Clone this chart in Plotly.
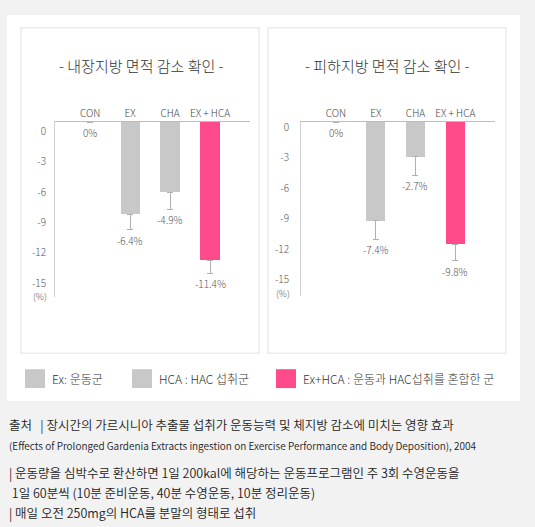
import plotly.graph_objects as go

W, H = 535, 527

# categories and values (bar length, labels as printed)
groups = ["CON", "EX", "CHA", "EX + HCA"]

visceral_bar = [0, -9.1, -6.9, -13.6]
visceral_err = [0, 1.5, 1.7, 1.3]
visceral_text = ["0%", "-6.4%", "-4.9%", "-11.4%"]

subcut_bar = [0, -9.7, -3.4, -12.0]
subcut_err = [0, 1.8, 1.8, 1.6]
subcut_text = ["0%", "-7.4%", "-2.7%", "-9.8%"]

y_ticks = [0, -3, -6, -9, -12, -15]

titles = ["- 내장지방 면적 감소 확인 -", "- 피하지방 면적 감소 확인 -"]

legend_items = ["Ex: 운동군", "HCA : HAC 섭취군", "Ex+HCA : 운동과 HAC섭취를 혼합한 군"]

source_lines = [
    "출처\u00a0\u00a0 | 장시간의 가르시니아 추출물 섭취가 운동능력 및 체지방 감소에 미치는 영향 효과",
    "(Effects of Prolonged Gardenia Extracts ingestion on Exercise Performance and Body Deposition), 2004",
    "| 운동량을 심박수로 환산하면 1일 200kal에 해당하는 운동프로그램인 주 3회 수영운동을",
    "\u00a01일 60분씩 (10분 준비운동, 40분 수영운동, 10분 정리운동)",
    "| 매일 오전 250mg의 HCA를 분말의 형태로 섭취",
]

GRAY = "#c8c8c8"
PINK = "#ff4b8b"
bar_colors = [GRAY, GRAY, GRAY, PINK]
legend_colors = [GRAY, GRAY, PINK]
KR = "Noto Sans CJK KR"


def px(x):
    return x / W


def py(y):
    return 1 - y / H


fig = go.Figure()
annotations = []

panels = [
    (visceral_bar, visceral_err, visceral_text, "x", "y"),
    (subcut_bar, subcut_err, subcut_text, "x2", "y2"),
]
for bars, errs, texts, xa, ya in panels:
    fig.add_trace(go.Bar(
        x=groups, y=bars, width=0.48,
        marker=dict(color=bar_colors, line=dict(width=0)),
        error_y=dict(type="data", symmetric=False, array=[0] * 4, arrayminus=errs,
                     color="#b0b0b0", thickness=1, width=3),
        xaxis=xa, yaxis=ya, showlegend=False,
    ))
    # value labels just under the end of each error bar
    for g, b, e, t in zip(groups, bars, errs, texts):
        annotations.append(dict(text=t, x=g, y=b - e, xref=xa, yref=ya, showarrow=False,
                                xanchor="center", yanchor="top", yshift=-1,
                                font=dict(family=KR, size=10, color="#555", weight=300)))

xcommon = dict(type="category", side="top", showline=True, linecolor="#bdbdbd", linewidth=1,
               ticks="", showgrid=False, zeroline=False, range=[-0.88, 4.0],
               tickfont=dict(family=KR, size=10, color="#444", weight=300), fixedrange=True)
ycommon = dict(showline=True, linecolor="#cfcfcf", linewidth=1, ticks="", showgrid=False,
               zeroline=False, tickvals=y_ticks, ticktext=[str(v) for v in y_ticks],
               tickfont=dict(family=KR, size=10, color="#555", weight=300), fixedrange=True)

fig.update_layout(
    width=W, height=H,
    margin=dict(l=0, r=0, t=0, b=0),
    paper_bgcolor="#f2f2f2", plot_bgcolor="rgba(0,0,0,0)",
    bargap=0, showlegend=False,
    xaxis=dict(xcommon, domain=[px(55), px(250)], anchor="y"),
    yaxis=dict(ycommon, domain=[py(295), py(119)], range=[-17.2, 0], anchor="x",
               ticklabelshift=9, ticklabelstandoff=6),
    xaxis2=dict(xcommon, domain=[px(301), px(495)], anchor="y2"),
    yaxis2=dict(ycommon, domain=[py(294), py(119)], range=[-17.05, 0], anchor="x2",
                ticklabelshift=5, ticklabelstandoff=9),
)

# card and panel frames
shapes = [
    dict(type="rect", xref="paper", yref="paper", x0=px(7), x1=px(520), y0=py(400), y1=py(11),
         fillcolor="white", line=dict(width=0), layer="below"),
    dict(type="rect", xref="paper", yref="paper", x0=px(21), x1=px(259), y0=py(352), y1=py(24),
         fillcolor="white", line=dict(color="#ebebeb", width=1.5), layer="below"),
    dict(type="rect", xref="paper", yref="paper", x0=px(268), x1=px(506), y0=py(352), y1=py(24),
         fillcolor="white", line=dict(color="#ebebeb", width=1.5), layer="below"),
]

# titles
for t, cx in zip(titles, [141, 387.5]):
    annotations.append(dict(text=t, x=px(cx), y=py(62), xref="paper", yref="paper",
                            showarrow=False, xanchor="center", yanchor="middle",
                            font=dict(family=KR, size=15, color="#333", weight=300)))

# (%) unit labels under the -15 tick
for xr, yr, sh, xs in [("x domain", "y", -22, -6), ("x2 domain", "y2", -19, -9)]:
    annotations.append(dict(text="(%)", x=0, y=-15, xref=xr, yref=yr, showarrow=False,
                            xanchor="right", yanchor="middle", xshift=xs, yshift=sh,
                            font=dict(family=KR, size=9, color="#555", weight=300)))

# legend
for label, col, sx in zip(legend_items, legend_colors, [25, 132, 276]):
    shapes.append(dict(type="rect", xref="paper", yref="paper", x0=px(sx), x1=px(sx + 20),
                       y0=py(387), y1=py(368), fillcolor=col, line=dict(width=0)))
    annotations.append(dict(text=label, x=px(sx + 25), y=py(377.5), xref="paper", yref="paper",
                            showarrow=False, xanchor="left", yanchor="middle",
                            font=dict(family=KR, size=12, color="#333", weight=300)))

# source notes
for line, ly, size in zip(source_lines, [424, 445, 472, 492, 512], [12.5, 10, 12.5, 12.5, 12.5]):
    annotations.append(dict(text=line, x=px(7), y=py(ly), xref="paper", yref="paper",
                            showarrow=False, xanchor="left", yanchor="middle",
                            font=dict(family=KR, size=size, color="#222", weight=350)))

fig.update_layout(shapes=shapes, annotations=annotations)

fig.write_html("out.html", config={"displayModeBar": False},
               post_script="document.body.style.margin='0';document.body.style.overflow='hidden';")
